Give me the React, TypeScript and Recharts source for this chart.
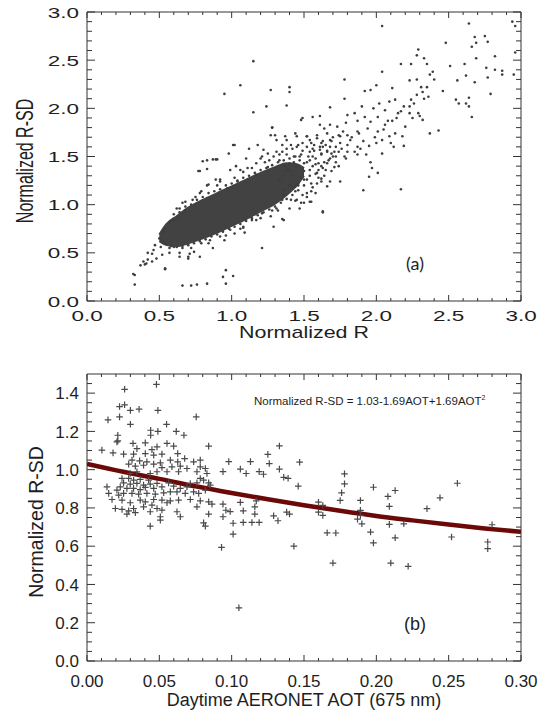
import React from 'react';
import { ComposedChart, Scatter, Area, Line, XAxis, YAxis, ReferenceArea } from 'recharts';

const FONT = "'Liberation Sans', Arial, Helvetica, sans-serif";
const INK = '#1e1e1e';
const AXIS = '#333';

// ---------- panel (a) : Normalized R vs Normalized R-SD ----------
const A_X_MAJOR = [0, 0.5, 1, 1.5, 2, 2.5, 3];
const A_Y_MAJOR = [0, 0.5, 1, 1.5, 2, 2.5, 3];

// solid dark core of the cloud, [low, high] per x
const A_CORE_X = [0.5, 0.55, 0.62, 0.7, 0.8, 0.9, 1.0, 1.1, 1.2, 1.3, 1.38, 1.45, 1.5];
const A_CORE_LO = [0.62, 0.58, 0.57, 0.6, 0.65, 0.71, 0.78, 0.85, 0.93, 1.01, 1.1, 1.2, 1.3];
const A_CORE_HI = [0.69, 0.8, 0.88, 0.97, 1.05, 1.12, 1.19, 1.26, 1.33, 1.39, 1.43, 1.42, 1.38];

// scattered points outside the core
const A_POINTS: [number, number][] = [
  [2.04, 2.855], [2.64, 2.88], [2.94, 2.9], [2.96, 2.855], [2.68, 2.74], [2.75, 2.75], [2.69, 2.68], [2.77, 2.69],
  [2.66, 2.64], [2.48, 2.68], [2.29, 2.61], [2.28, 2.55], [2.33, 2.52], [2.96, 2.58], [2.82, 2.54], [2.69, 2.52],
  [2.35, 2.46], [2.24, 2.46], [2.17, 2.46], [2.51, 2.44], [2.61, 2.46], [1.15, 2.49], [2.76, 2.42], [2.82, 2.4],
  [2.87, 2.39], [2.95, 2.35], [2.87, 2.35], [2.39, 2.38], [2.37, 2.35], [2.04, 2.38], [2.62, 2.34], [2.77, 2.32],
  [2.28, 2.3], [2.23, 2.29], [2.4, 2.3], [2.56, 2.29], [1.78, 2.3], [2.68, 2.27], [2.35, 2.22], [2.31, 2.22],
  [2.46, 2.18], [2.32, 2.17], [2.11, 2.21], [2.0, 2.24], [1.96, 2.19], [1.92, 2.18], [2.28, 2.14], [2.36, 2.12],
  [2.79, 2.15], [2.64, 2.11], [1.06, 2.24], [1.27, 2.19], [1.4, 2.22], [1.4, 2.17], [0.95, 2.15], [1.78, 2.1],
  [2.13, 2.09], [2.24, 2.09], [2.09, 2.07], [2.57, 2.05], [2.62, 2.05], [2.55, 2.09], [2.64, 2.02], [2.19, 2.02],
  [2.23, 2.02], [1.38, 2.03], [1.24, 2.02], [1.9, 2.02], [2.02, 2.05], [1.68, 2.01], [1.98, 2.0], [2.06, 1.98],
  [1.15, 1.96], [2.66, 1.91], [1.85, 1.95], [2.17, 1.97], [2.29, 1.95], [2.23, 1.95], [2.3, 1.92], [2.32, 1.88],
  [1.8, 1.93], [1.92, 1.91], [2.01, 1.91], [2.14, 1.9], [2.11, 1.87], [1.61, 1.92], [1.56, 1.91], [1.49, 1.9],
  [1.87, 1.87], [1.96, 1.86], [1.79, 1.85], [1.68, 1.83], [1.73, 1.81], [2.06, 1.83], [2.2, 1.81], [2.43, 1.77],
  [2.37, 1.74], [1.94, 1.79], [1.87, 1.76], [1.8, 1.72], [1.64, 1.79], [1.28, 1.8], [2.01, 1.76], [2.13, 1.74],
  [2.09, 1.71], [2.18, 1.71], [2.04, 1.67], [2.0, 1.64], [2.1, 1.64], [2.19, 1.61], [2.12, 1.6], [1.95, 1.61],
  [1.75, 1.71], [1.68, 1.67], [1.62, 1.64], [1.59, 1.69], [1.3, 1.72], [1.37, 1.71], [1.44, 1.74], [1.52, 1.71],
  [1.02, 1.62], [1.87, 1.6], [1.8, 1.55], [1.93, 1.52], [2.04, 1.53], [1.87, 1.52], [1.96, 1.44], [1.97, 1.38],
  [2.01, 1.33], [1.95, 1.29], [1.79, 1.48], [1.72, 1.5], [1.66, 1.55], [0.83, 1.46], [0.89, 1.47], [0.78, 1.35],
  [1.75, 1.24], [1.62, 1.27], [1.91, 1.15], [2.17, 1.16], [1.68, 1.24], [1.55, 1.03], [1.47, 0.96], [1.63, 0.92],
  [1.35, 0.85], [1.21, 0.55], [0.54, 0.33], [0.33, 0.27], [0.33, 0.17], [0.66, 0.16], [0.72, 0.16], [0.76, 0.17],
  [0.83, 0.18], [0.96, 0.32], [0.94, 0.25], [1.01, 0.26], [0.96, 0.18], [0.37, 0.37], [0.41, 0.39], [0.45, 0.41],
  [0.48, 0.44], [0.45, 0.49], [0.52, 0.48], [0.7, 0.44], [0.64, 0.46], [0.57, 0.5],
  [0.64, 0.96], [0.73, 1.05], [0.83, 1.2], [0.92, 1.26], [1.06, 1.36], [1.11, 1.38], [1.21, 1.5], [1.25, 1.39],
  [1.35, 1.55], [1.42, 1.58], [1.49, 1.64], [1.54, 1.67], [1.47, 1.5], [1.56, 1.58], [1.61, 1.57], [1.68, 1.6],
  [1.66, 1.43], [1.54, 1.46], [1.71, 1.39], [1.63, 1.38], [1.59, 1.33], [1.52, 1.26], [1.44, 1.19], [1.49, 1.1],
  [1.41, 1.05], [1.35, 1.05], [1.28, 0.94], [1.21, 0.91], [1.14, 0.84], [1.06, 0.75], [1.02, 0.7], [0.95, 0.63],
  [0.87, 0.55], [0.79, 0.6], [0.71, 0.49], [0.66, 0.55], [0.6, 0.56], [0.54, 0.6], [0.52, 0.63], [0.51, 0.56],
  [0.59, 0.84], [0.68, 0.94], [0.97, 1.17], [1.04, 1.24], [1.17, 1.31], [1.33, 1.46], [1.4, 1.43], [1.78, 1.5],
  [1.85, 1.55], [1.82, 1.67], [1.74, 1.55],
  [1.28, 1.8], [1.48, 1.88], [1.61, 1.83], [1.01, 1.62], [0.98, 1.53], [0.8, 1.45], [0.87, 1.47], [0.9, 1.47],
  [0.77, 1.35], [0.83, 1.37], [1.12, 1.58], [1.22, 1.57], [1.31, 1.67], [1.27, 1.72], [1.35, 1.62], [1.38, 1.67],
  [1.45, 1.71], [1.52, 1.71], [1.59, 1.72], [1.66, 1.74], [1.46, 1.62], [1.55, 1.64], [1.63, 1.6], [1.2, 1.48],
  [1.1, 1.48], [1.17, 1.43], [0.99, 1.36], [1.03, 1.4], [1.08, 1.34], [0.89, 1.26], [0.92, 1.24], [0.84, 1.21],
  [0.79, 1.14], [0.75, 1.08], [0.68, 1.03], [0.62, 0.96], [0.63, 0.86], [0.6, 0.84], [0.53, 0.72], [0.5, 0.65],
  [0.47, 0.58], [0.46, 0.53], [0.42, 0.5], [0.39, 0.41], [0.42, 0.43], [0.4, 0.38], [0.54, 0.34], [0.32, 0.28],
  [0.57, 0.55], [0.64, 0.5], [0.7, 0.46], [0.78, 0.46], [0.74, 0.51], [0.85, 0.63], [0.92, 0.67], [0.99, 0.74],
  [1.08, 0.77], [1.09, 0.71], [1.17, 0.84], [1.27, 0.88], [1.31, 0.96], [1.4, 0.96], [1.36, 0.84], [1.29, 0.77],
  [1.45, 1.05], [1.5, 1.02], [1.54, 1.03], [1.55, 1.14], [1.63, 0.93], [1.62, 1.24], [1.66, 1.19], [1.59, 1.22],
  [1.65, 1.36], [1.6, 1.43], [1.54, 1.36], [1.5, 1.43], [1.43, 1.5], [1.38, 1.36], [1.46, 1.2], [1.36, 1.1],
  [1.44, 1.14], [1.54, 1.55], [1.62, 1.53], [1.68, 1.48], [1.18, 1.62],
  [0.58, 0.57], [0.62, 0.56], [0.66, 0.57], [0.7, 0.58], [0.74, 0.6], [0.78, 0.62], [0.82, 0.64], [0.86, 0.67],
  [0.9, 0.69], [0.94, 0.72], [0.98, 0.75], [1.02, 0.77], [1.06, 0.8], [1.1, 0.83], [1.14, 0.86], [1.18, 0.89],
  [1.22, 0.92], [1.26, 0.95], [1.3, 0.98], [1.34, 1.02], [1.38, 1.06], [1.42, 1.1], [1.46, 1.15], [1.5, 1.2],
  [0.72, 0.55], [0.84, 0.6], [0.96, 0.68], [1.08, 0.76], [1.2, 0.86], [1.32, 0.94], [1.44, 1.04], [1.52, 1.12],
  [0.54, 0.75], [0.57, 0.82], [0.6, 0.9], [0.64, 0.92], [0.68, 0.98], [0.72, 1.0], [0.76, 1.05], [0.8, 1.08],
  [0.84, 1.12], [0.88, 1.14], [0.92, 1.16], [0.96, 1.2], [1.0, 1.22], [1.04, 1.25], [1.08, 1.28], [1.12, 1.3],
  [1.16, 1.33], [1.2, 1.36], [1.24, 1.38], [1.28, 1.41], [1.32, 1.44], [1.36, 1.46], [1.4, 1.48], [1.44, 1.5],
  [1.48, 1.52], [0.66, 1.02], [0.78, 1.12], [0.9, 1.2], [1.02, 1.28], [1.14, 1.38], [1.26, 1.46], [1.38, 1.52],
  [1.4, 1.2], [1.42, 1.3], [1.45, 1.4], [1.48, 1.28], [1.5, 1.35], [1.52, 1.44], [1.54, 1.3], [1.56, 1.4],
  [1.58, 1.48], [1.6, 1.36], [1.62, 1.52], [1.64, 1.44], [1.66, 1.56], [1.7, 1.5], [1.72, 1.6], [1.75, 1.64],
  [1.46, 1.22], [1.5, 1.26], [1.55, 1.22], [1.58, 1.32], [1.36, 1.16], [1.4, 1.36], [1.43, 1.44], [1.47, 1.46],
  [1.53, 1.5], [1.57, 1.56], [1.61, 1.6], [1.65, 1.62], [1.69, 1.66], [1.35, 1.3], [1.33, 1.25], [1.37, 1.4],
  [1.52, 1.6], [1.57, 1.62], [1.63, 1.66], [1.7, 1.7], [1.74, 1.72], [1.77, 1.76], [1.71, 1.55], [1.76, 1.58],
  [1.69, 1.53], [1.58, 1.42], [1.62, 1.4], [1.67, 1.46], [1.72, 1.44], [1.56, 1.5], [1.49, 1.56], [1.45, 1.6],
  [1.41, 1.62], [1.38, 1.58], [1.33, 1.52], [1.29, 1.5], [1.25, 1.53], [1.23, 1.44], [1.31, 1.55], [1.6, 1.28],
  [1.56, 1.18], [1.52, 1.08], [1.48, 1.02], [1.58, 1.12], [1.64, 1.3], [1.69, 1.35], [1.74, 1.4], [1.8, 1.62],
  [1.83, 1.7], [1.88, 1.74], [1.91, 1.66], [1.89, 1.58], [1.99, 1.7], [2.05, 1.78], [2.08, 1.87], [2.15, 1.95],
  [2.25, 1.9], [2.26, 2.05], [2.33, 2.1],
];

// ---------- panel (b) : AOT vs Normalized R-SD ----------
const B_X_MAJOR = [0, 0.05, 0.1, 0.15, 0.2, 0.25, 0.3];
const B_Y_MAJOR = [0, 0.2, 0.4, 0.6, 0.8, 1.0, 1.2, 1.4];

// fitted curve
const B_FIT_X = [0, 0.025, 0.05, 0.075, 0.1, 0.125, 0.15, 0.175, 0.2, 0.225, 0.25, 0.275, 0.3];
const B_FIT_Y = [1.03, 0.989, 0.952, 0.913, 0.878, 0.845, 0.814, 0.785, 0.758, 0.735, 0.713, 0.693, 0.675];

const B_POINTS: [number, number][] = [
  // upper outliers
  [0.026, 1.42], [0.048, 1.446], [0.0225, 1.33], [0.026, 1.339], [0.0225, 1.276], [0.03, 1.31], [0.036, 1.316],
  [0.049, 1.31], [0.0145, 1.26], [0.03, 1.237], [0.0755, 1.276], [0.055, 1.237], [0.044, 1.206], [0.044, 1.18],
  [0.049, 1.2], [0.0617, 1.2], [0.067, 1.18], [0.0213, 1.18], [0.0213, 1.15],
  // x 0.09 - 0.14
  [0.133, 1.124], [0.098, 1.042], [0.125, 1.08], [0.126, 1.032], [0.113, 1.042], [0.094, 0.99], [0.106, 1.003],
  [0.11, 0.98], [0.119, 0.99], [0.122, 0.976], [0.133, 1.003], [0.136, 0.96], [0.094, 0.82], [0.096, 0.788],
  [0.099, 0.781], [0.106, 0.829], [0.108, 0.785], [0.116, 0.806], [0.116, 0.768], [0.117, 0.837], [0.094, 0.754],
  [0.101, 0.72], [0.108, 0.724], [0.114, 0.724], [0.119, 0.724], [0.129, 0.759], [0.132, 0.733], [0.101, 0.663],
  [0.093, 0.594],
  // dense cluster
  [0.0207, 1.145], [0.0318, 1.137], [0.0403, 1.14], [0.0484, 1.119], [0.0553, 1.137], [0.0599, 1.123],
  [0.0345, 1.11], [0.0449, 1.105], [0.0253, 1.081], [0.0322, 1.081], [0.0403, 1.084], [0.0461, 1.076],
  [0.0518, 1.081], [0.0627, 1.084], [0.0103, 1.102], [0.018, 1.088], [0.0841, 1.123], [0.0675, 1.058],
  [0.0737, 1.041], [0.0783, 1.05], [0.0311, 1.05], [0.0364, 1.046], [0.0414, 1.041], [0.0507, 1.036],
  [0.0576, 1.05], [0.0627, 1.041], [0.0288, 1.029], [0.0334, 1.018], [0.0391, 1.023], [0.0461, 1.029],
  [0.0518, 1.011], [0.0587, 1.015], [0.0645, 1.018], [0.0691, 1.006], [0.0783, 1.015], [0.0818, 1.006],
  [0.0553, 0.989], [0.0633, 0.989], [0.076, 0.989], [0.0829, 0.98], [0.0345, 0.989], [0.0437, 0.98],
  [0.0484, 0.989], [0.0299, 0.98], [0.0242, 0.954], [0.0288, 0.954], [0.0322, 0.945], [0.0368, 0.949],
  [0.0426, 0.945], [0.0253, 0.931], [0.0299, 0.924], [0.0345, 0.928], [0.0391, 0.919], [0.0437, 0.924],
  [0.0484, 0.928], [0.023, 0.91], [0.0276, 0.902], [0.0322, 0.902], [0.0368, 0.896], [0.0403, 0.907],
  [0.0461, 0.902], [0.0518, 0.91], [0.0564, 0.931], [0.0599, 0.914], [0.0645, 0.902], [0.0691, 0.91],
  [0.0714, 0.928], [0.076, 0.931], [0.0783, 0.954], [0.0806, 0.945], [0.0841, 0.931], [0.0138, 0.91],
  [0.015, 0.876], [0.0207, 0.893], [0.0219, 0.867], [0.0253, 0.876], [0.0311, 0.876], [0.0357, 0.872],
  [0.0414, 0.876], [0.0472, 0.872], [0.053, 0.879], [0.0576, 0.884], [0.0622, 0.884], [0.0679, 0.876],
  [0.0737, 0.884], [0.0772, 0.876], [0.0818, 0.893], [0.0852, 0.919], [0.0173, 0.844], [0.0242, 0.841],
  [0.0299, 0.827], [0.0368, 0.841], [0.0403, 0.832], [0.0461, 0.844], [0.0518, 0.841], [0.0576, 0.837],
  [0.0633, 0.841], [0.0714, 0.844], [0.0783, 0.837], [0.0841, 0.832], [0.0864, 0.82], [0.0196, 0.797],
  [0.0242, 0.792], [0.0288, 0.785], [0.0322, 0.797], [0.0391, 0.806], [0.0449, 0.815], [0.0484, 0.797],
  [0.0518, 0.789], [0.0553, 0.827], [0.0437, 0.78], [0.0622, 0.78], [0.076, 0.806], [0.0841, 0.768],
  [0.0507, 0.754], [0.0507, 0.736], [0.0645, 0.754], [0.0806, 0.722], [0.0818, 0.705], [0.0437, 0.705],
  [0.0276, 0.768], [0.0334, 0.775],
  // right part
  [0.147, 1.039], [0.178, 0.978], [0.178, 0.926], [0.198, 0.908], [0.256, 0.929], [0.146, 0.914], [0.139, 0.955],
  [0.176, 0.879], [0.175, 0.839], [0.208, 0.86], [0.213, 0.891], [0.244, 0.853], [0.189, 0.839], [0.209, 0.808],
  [0.16, 0.83], [0.163, 0.813], [0.235, 0.796], [0.189, 0.787], [0.189, 0.761], [0.19, 0.717], [0.187, 0.741],
  [0.16, 0.778], [0.163, 0.761], [0.138, 0.778], [0.14, 0.768], [0.219, 0.717], [0.209, 0.714], [0.28, 0.712],
  [0.166, 0.67], [0.172, 0.669], [0.196, 0.674], [0.198, 0.617], [0.213, 0.644], [0.252, 0.648], [0.277, 0.622],
  [0.277, 0.587], [0.143, 0.6], [0.17, 0.512], [0.21, 0.512], [0.222, 0.495], [0.105, 0.278],
];

// ---------- helpers ----------
const withMinor = (max: number, step: number) => {
  const out: number[] = [];
  for (let i = 0; i * step <= max + 1e-9; i++) out.push(Math.round(i * step * 1000) / 1000);
  return out;
};
const isMajor = (v: number, majors: number[]) => majors.some((m) => Math.abs(m - v) < 1e-6);

const A_BOX = { top: 12, bottom: 301, left: 87, right: 521 };
const B_BOX = { top: 29, bottom: 316, left: 87, right: 521 }; // inside its own chart

const aCore = A_CORE_X.map((x, i) => ({ x, band: [A_CORE_LO[i], A_CORE_HI[i]] }));
const aPoints = A_POINTS.map(([x, y]) => ({ x, y }));
const bFit = B_FIT_X.map((x, i) => ({ x, fit: B_FIT_Y[i] }));
const bPoints = B_POINTS.map(([x, y]) => ({ x, y }));

const XTick = (p: any, o: any) => {
  const { x, payload } = p;
  const major = isMajor(payload.value, o.majors);
  const len = major ? 6 : 3;
  return (
    <g>
      <line x1={x} x2={x} y1={o.box.bottom} y2={o.box.bottom - len} stroke={AXIS} />
      <line x1={x} x2={x} y1={o.box.top} y2={o.box.top + len} stroke={AXIS} />
      {major && (
        <text
          transform={`translate(${x},${o.box.bottom + o.dy}) scale(${o.stretch},1)`}
          textAnchor="middle"
          fontFamily={FONT}
          fontSize={o.size}
          fill={INK}
        >
          {payload.value.toFixed(o.digits)}
        </text>
      )}
    </g>
  );
};

const YTick = (p: any, o: any) => {
  const { y, payload } = p;
  const major = isMajor(payload.value, o.majors);
  const len = major ? 8 : 5;
  return (
    <g>
      <line x1={o.box.left} x2={o.box.left + len} y1={y} y2={y} stroke={AXIS} />
      <line x1={o.box.right} x2={o.box.right - len} y1={y} y2={y} stroke={AXIS} />
      {major && (
        <text
          transform={`translate(79,${y + o.size * 0.36}) scale(${o.stretch},1)`}
          textAnchor="end"
          fontFamily={FONT}
          fontSize={o.size}
          fill={INK}
        >
          {payload.value.toFixed(1)}
        </text>
      )}
    </g>
  );
};

const Dot = (p: any) => <circle cx={p.cx} cy={p.cy} r={1.3} fill="#3d3d3d" />;
const Plus = (p: any) => (
  <path d={`M${p.cx - 3.3},${p.cy}h6.6M${p.cx},${p.cy - 3.3}v6.6`} stroke="#4a4a4a" strokeWidth={1.2} fill="none" />
);

const PanelA = () => {
  const xo = { majors: A_X_MAJOR, box: A_BOX, dy: 20, stretch: 1.45, size: 15.5, digits: 1 };
  const yo = { majors: A_Y_MAJOR, box: A_BOX, stretch: 1.45, size: 15.5 };
  return (
    <ComposedChart width={539} height={345} data={aCore} margin={{ top: 12, right: 18, bottom: 0, left: 0 }}>
      <XAxis
        type="number"
        dataKey="x"
        domain={[0, 3]}
        ticks={withMinor(3, 0.1)}
        interval={0}
        height={44}
        tickSize={0}
        tickMargin={0}
        tickLine={false}
        axisLine={false}
        allowDataOverflow
        tick={(p: any) => XTick(p, xo)}
      />
      <YAxis
        type="number"
        domain={[0, 3]}
        ticks={withMinor(3, 0.1)}
        interval={0}
        width={87}
        tickSize={0}
        tickMargin={0}
        tickLine={false}
        axisLine={false}
        allowDataOverflow
        tick={(p: any) => YTick(p, yo)}
      />
      <ReferenceArea x1={0} x2={3} y1={0} y2={3} fill="none" stroke={AXIS} strokeWidth={1} />
      <Area
        type="monotone"
        dataKey="band"
        fill="#424242"
        fillOpacity={1}
        stroke="#424242"
        strokeWidth={2}
        isAnimationActive={false}
      />
      <Scatter data={aPoints} dataKey="y" shape={Dot} isAnimationActive={false} />
    </ComposedChart>
  );
};

const PanelB = () => {
  const xo = { majors: B_X_MAJOR, box: B_BOX, dy: 25.5, stretch: 1, size: 17, digits: 2 };
  const yo = { majors: B_Y_MAJOR, box: B_BOX, stretch: 1, size: 17 };
  return (
    <ComposedChart width={539} height={366} data={bFit} margin={{ top: 29, right: 18, bottom: 0, left: 0 }}>
      <XAxis
        type="number"
        dataKey="x"
        domain={[0, 0.3]}
        ticks={withMinor(0.3, 0.01)}
        interval={0}
        height={50}
        tickSize={0}
        tickMargin={0}
        tickLine={false}
        axisLine={false}
        allowDataOverflow
        tick={(p: any) => XTick(p, xo)}
      />
      <YAxis
        type="number"
        domain={[0, 1.5]}
        ticks={withMinor(1.45, 0.05)}
        interval={0}
        width={87}
        tickSize={0}
        tickMargin={0}
        tickLine={false}
        axisLine={false}
        allowDataOverflow
        tick={(p: any) => YTick(p, yo)}
      />
      <ReferenceArea x1={0} x2={0.3} y1={0} y2={1.5} fill="none" stroke={AXIS} strokeWidth={1} />
      <Scatter data={bPoints} dataKey="y" shape={Plus} isAnimationActive={false} />
      <Line type="monotone" dataKey="fit" stroke="#6b0909" strokeWidth={4.5} dot={false} isAnimationActive={false} />
    </ComposedChart>
  );
};

export default function App() {
  return (
    <div style={{ position: 'absolute', left: 0, top: 0, width: 539, height: 711, background: '#fff' }}>
      <div style={{ position: 'absolute', left: 0, top: 0 }}>
        <PanelA />
      </div>
      <div style={{ position: 'absolute', left: 0, top: 345 }}>
        <PanelB />
      </div>
      <svg
        width={539}
        height={711}
        style={{ position: 'absolute', left: 0, top: 0, pointerEvents: 'none' }}
        fontFamily={FONT}
        fill={INK}
      >
        <text transform="translate(32.5,161) scale(1.45,1) rotate(-90)" textAnchor="middle" fontSize={16}>
          Normalized R-SD
        </text>
        <text transform="translate(304,337.5) scale(1.34,1)" textAnchor="middle" fontSize={16}>
          Normalized R
        </text>
        <text x={415} y={270} textAnchor="middle" fontSize={18} fontFamily="Lato, 'Open Sans', sans-serif">
          (a)
        </text>
        <text transform="translate(43,522) rotate(-90)" textAnchor="middle" fontSize={19.5}>
          Normalized R-SD
        </text>
        <text x={304} y={705.5} textAnchor="middle" fontSize={18}>
          Daytime AERONET AOT (675 nm)
        </text>
        <text x={254} y={405} fontSize={11.5}>
          Normalized R-SD = 1.03-1.69AOT+1.69AOT
          <tspan dy={-5} fontSize={7}>
            2
          </tspan>
        </text>
        <text x={415} y={630} textAnchor="middle" fontSize={18}>
          (b)
        </text>
      </svg>
    </div>
  );
}
